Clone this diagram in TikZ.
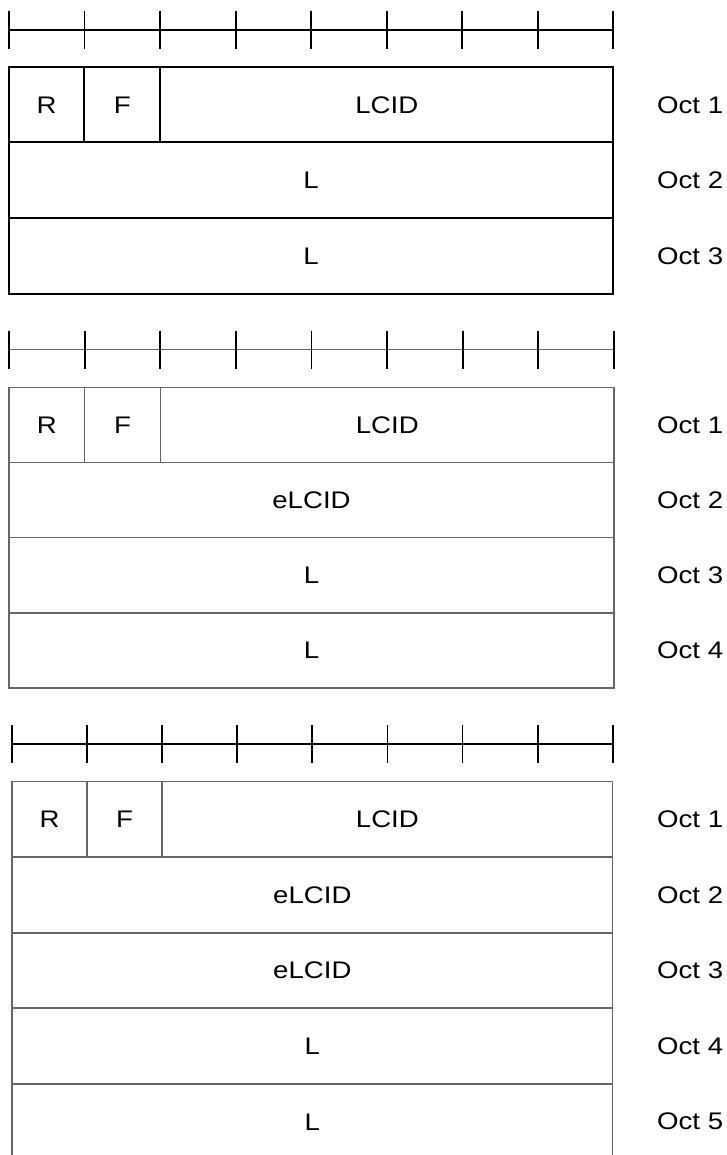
\documentclass[tikz,border=0pt]{standalone}
\usepackage{fontspec}
\newfontfamily\lblfont[FakeStretch=1.15]{Liberation Sans}
\newcommand{\lbl}{\lblfont\fontsize{24}{28}\selectfont}
\tikzset{
  cellA/.style={draw=black, line width=1.8pt, inner sep=0pt, outer sep=0pt, anchor=north west, font=\lbl},
  cellB/.style={draw=black!60, line width=1.2pt, inner sep=0pt, outer sep=0pt, anchor=north west, font=\lbl},
  cellC/.style={inner sep=0pt, outer sep=0pt, anchor=north west, font=\lbl},
  oct/.style={anchor=west, inner sep=0pt, font=\lbl},
  tickmark/.style={line width=1.8pt, black},
}
\begin{document}
\begin{tikzpicture}[x=1pt,y=-1pt]
\useasboundingbox (0,0) rectangle (726,1155);
\fill[white] (0,0) rectangle (726,1155);

% ---------- Section 1 ----------
\draw[line width=1.8pt] (9,30) -- (613.3,30);
\foreach \i in {0,...,8} \draw[tickmark] ({9+\i*75.54},11) -- ({9+\i*75.54},49);
\node[cellA, minimum width=75.3pt, minimum height=75pt] (a1r) at (9,67.3) {R};
\node[cellA, minimum width=76pt, minimum height=75pt] (a1f) at (84.3,67.3) {F};
\node[cellA, minimum width=453pt, minimum height=75pt] (a1l) at (160.3,67.3) {LCID};
\node[cellA, minimum width=604.3pt, minimum height=75.7pt] (a2) at (9,142.3) {L};
\node[cellA, minimum width=604.3pt, minimum height=75.7pt] (a3) at (9,218) {L};
\node[oct] (ao1) at (657,104.8) {Oct 1};
\node[oct] (ao2) at (657,180.2) {Oct 2};
\node[oct] (ao3) at (657,255.9) {Oct 3};

% ---------- Section 2 ----------
\draw[line width=1.2pt, black!60] (9,349.7) -- (614,349.7);
\foreach \i in {0,...,8} \draw[tickmark] ({9+\i*75.625},330.7) -- ({9+\i*75.625},369);
\node[cellB, minimum width=75.6pt, minimum height=75pt] (b1r) at (9,387.7) {R};
\node[cellB, minimum width=76pt, minimum height=75pt] (b1f) at (84.6,387.7) {F};
\node[cellB, minimum width=453.4pt, minimum height=75pt] (b1l) at (160.6,387.7) {LCID};
\node[cellB, minimum width=605pt, minimum height=75pt] (b2) at (9,462.7) {eLCID};
\node[cellB, minimum width=605pt, minimum height=75.3pt] (b3) at (9,537.7) {L};
\node[cellB, minimum width=605pt, minimum height=75pt] (b4) at (9,613) {L};
\node[oct] (bo1) at (657,425.2) {Oct 1};
\node[oct] (bo2) at (657,500.2) {Oct 2};
\node[oct] (bo3) at (657,575.3) {Oct 3};
\node[oct] (bo4) at (657,650.5) {Oct 4};

% ---------- Section 3 ----------
\draw[line width=1.2pt, black] (12,744) -- (612.7,744);
\foreach \i in {0,...,8} \draw[tickmark] ({12+\i*75.09},725) -- ({12+\i*75.09},763.3);
\node[cellB, minimum width=75pt, minimum height=75.3pt] (c1r) at (12,781.7) {R};
\node[cellB, minimum width=75pt, minimum height=75.3pt] (c1f) at (87,781.7) {F};
\node[cellB, minimum width=450.7pt, minimum height=75.3pt] (c1l) at (162,781.7) {LCID};
\node[cellB, minimum width=600.7pt, minimum height=76pt] (c2) at (12,857) {eLCID};
\node[cellB, minimum width=600.7pt, minimum height=75pt] (c3) at (12,933) {eLCID};
\node[cellB, minimum width=600.7pt, minimum height=76pt] (c4) at (12,1008) {L};
\node[cellC, minimum width=600.7pt, minimum height=75.5pt] (c5) at (12,1084) {L};
\draw[line width=1.2pt, black!60] (c5.north west) -- (c5.south west);
\draw[line width=1.2pt, black!60] (c5.north east) -- (c5.south east);
\node[oct] (co1) at (657,819.3) {Oct 1};
\node[oct] (co2) at (657,895) {Oct 2};
\node[oct] (co3) at (657,970.5) {Oct 3};
\node[oct] (co4) at (657,1046) {Oct 4};
\node[oct] (co5) at (657,1121.7) {Oct 5};
\end{tikzpicture}
\end{document}
